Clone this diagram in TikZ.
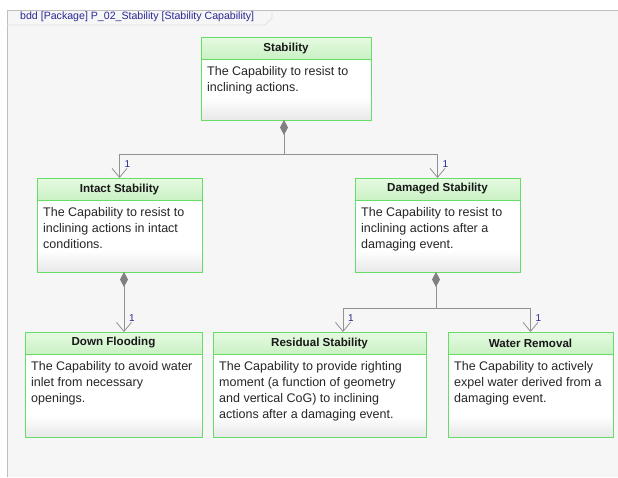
\documentclass[tikz,border=0pt]{standalone}
\usepackage{fontspec}
\setmainfont{Liberation Sans}
\usetikzlibrary{arrows.meta,calc}
\definecolor{boxgreen}{RGB}{102,221,102}
\definecolor{headtop}{RGB}{230,250,226}
\definecolor{headbot}{RGB}{202,241,196}
\definecolor{linegray}{RGB}{145,145,145}
\definecolor{navy}{RGB}{40,40,150}
\definecolor{bgray}{RGB}{246,246,246}
\definecolor{framegray}{RGB}{190,190,190}
\tikzset{
 blockbox/.style={fill=white, rectangle, inner sep=0pt, outer sep=0pt, anchor=north west},
 headtext/.style={font=\bfseries\fontsize{11.6}{13}\selectfont, text=black!90, anchor=center, inner sep=0pt},
 bodytext/.style={font=\fontsize{12.5}{16}\selectfont, align=left, anchor=north west, inner sep=0pt, text=black!85},
 conn/.style={draw=linegray, line width=1pt},
 opentip/.style={-{Straight Barb[length=9pt,width=15pt,line width=0.8pt]}},
 comptip/.style={{Diamond[fill=gray, color=gray, length=15pt, width=8pt]}-{Straight Barb[length=9pt,width=15pt,line width=0.8pt]}},
 mult/.style={font=\fontsize{10}{11}\selectfont, text=navy, inner sep=0pt}
}
\newcommand\capblock[7]{%
 \node[blockbox, minimum width=#4pt, minimum height=#5pt] (#1) at (#2,#3) {};
 \shade[top color=white, bottom color=gray!18] ([yshift=22pt]#1.south west) rectangle (#1.south east);
 \shade[top color=headtop,bottom color=headbot] (#1.north west) rectangle ([yshift=-22pt]#1.north east);
 \draw[boxgreen, line width=1pt] ([yshift=-22pt]#1.north west) -- ([yshift=-22pt]#1.north east);
 \draw[boxgreen, line width=1pt] (#1.north west) rectangle (#1.south east);
 \node[headtext] (#1-title) at ([yshift=-11pt]#1.north) {#6};
 \node[bodytext] (#1-body) at ([xshift=6pt,yshift=-29pt]#1.north west) {#7};
}
\begin{document}
\begin{tikzpicture}[x=1pt,y=-1pt]
\useasboundingbox (0,0) rectangle (618,477);
\fill[white] (0,0) rectangle (618,477);
\fill[bgray] (7,10) rectangle (618,477);
\draw[framegray, line width=1pt] (7,477) -- (7,10) -- (618,10);
\draw[framegray!50, line width=0.8pt] (7,25) -- (265,25) -- (272,18) -- (272,10);
\node[font=\fontsize{10.6}{12}\selectfont, text=navy, anchor=base west, inner sep=0pt] (tab) at (20,19) {bdd [Package] P\_02\_Stability [Stability Capability]};

\capblock{stab}{201}{37}{170}{83}{Stability}{The Capability to resist to\\inclining actions.}
\capblock{intact}{37}{178}{165}{94}{Intact Stability}{The Capability to resist to\\inclining actions in intact\\conditions.}
\capblock{damaged}{355}{178}{165}{94}{Damaged Stability}{The Capability to resist to\\inclining actions after a\\damaging event.}
\capblock{down}{25}{332}{177}{105}{Down Flooding}{The Capability to avoid water\\inlet from necessary\\openings.}
\capblock{resid}{213}{332}{213}{105}{Residual Stability}{The Capability to provide righting\\moment (a function of geometry\\and vertical CoG) to inclining\\actions after a damaging event.}
\capblock{water}{448}{332}{165}{105}{Water Removal}{The Capability to actively\\expel water derived from a\\damaging event.}

\coordinate (j1) at (284,154);
\coordinate (k1) at (124,300);
\coordinate (j2) at (436,308);
\coordinate (a3) at (343,308);
\draw[conn, comptip] (stab.south -| j1) -- (j1) -| (intact.north);
\draw[conn, opentip] (j1) -| (damaged.north);
\draw[conn, comptip] (intact.south -| k1) -- (down.north -| k1);
\draw[conn, comptip] (damaged.south -| j2) -- (j2) -| (resid.north -| a3);
\draw[conn, opentip] (j2) -| (water.north);

\node[mult] (m1) at ([xshift=8pt,yshift=14pt]intact.north) {1};
\node[mult] (m2) at ([xshift=8pt,yshift=14pt]damaged.north) {1};
\node[mult] (m3) at ([xshift=8pt,yshift=14pt]down.north -| k1) {1};
\node[mult] (m4) at ([xshift=8pt,yshift=14pt]resid.north -| a3) {1};
\node[mult] (m5) at ([xshift=8pt,yshift=14pt]water.north) {1};
\end{tikzpicture}
\end{document}
